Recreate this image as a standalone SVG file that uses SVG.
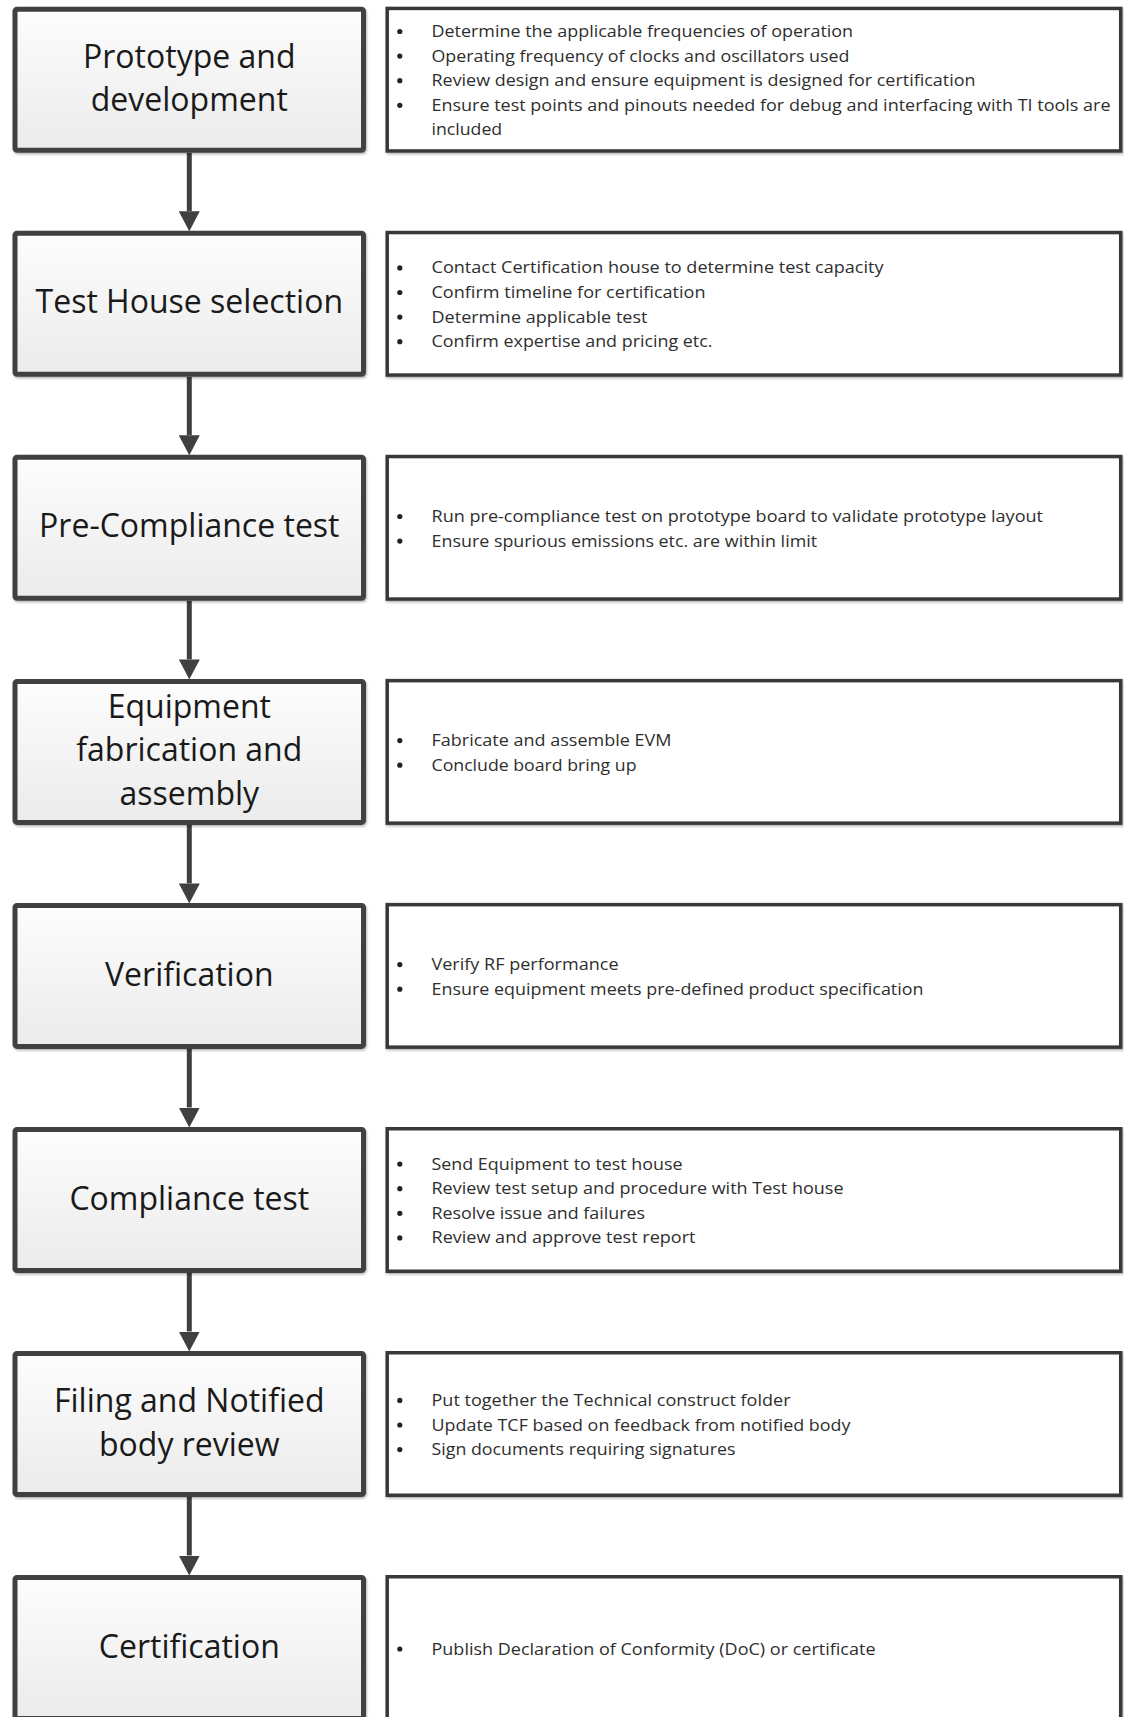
<svg xmlns="http://www.w3.org/2000/svg" width="1124" height="1717" viewBox="0 0 1124 1717">
<defs>
<linearGradient id="fillGrad" x1="0" y1="0" x2="0" y2="1">
<stop offset="0" stop-color="#fdfdfd"/>
<stop offset="1" stop-color="#ebebeb"/>
</linearGradient>
<filter id="shadow" x="-5%" y="-5%" width="110%" height="115%">
<feDropShadow dx="1" dy="1.5" stdDeviation="1.2" flood-color="#000" flood-opacity="0.3"/>
</filter>
<marker id="head" viewBox="0 0 20 21" markerWidth="20" markerHeight="21" markerUnits="userSpaceOnUse" refX="0" refY="10.5" orient="auto">
<path d="M0,0 L20,10.5 L0,21 Z" fill="#404040"/>
</marker>
</defs>
<style>
.step{fill:url(#fillGrad);stroke:#404040;stroke-width:5;filter:url(#shadow)}
.info{fill:#ffffff;stroke:#383838;stroke-width:3.5;filter:url(#shadow)}
.title{font-family:"Open Sans","Noto Sans","Liberation Sans",sans-serif;font-size:32px;fill:#1a1a1a;text-anchor:middle}
.item{font-family:"Open Sans","Noto Sans","Liberation Sans",sans-serif;font-size:17px;fill:#2e2e2e}
.dot{fill:#222}
.conn{stroke:#404040;stroke-width:5;fill:none;marker-end:url(#head)}
</style>
<rect width="1124" height="1717" fill="#ffffff"/>

<g id="connectors">
<line class="conn" x1="189.3" y1="152.7" x2="189.3" y2="211.3"/>
<line class="conn" x1="189.3" y1="376.8" x2="189.3" y2="435.3"/>
<line class="conn" x1="189.3" y1="600.8" x2="189.3" y2="659.4"/>
<line class="conn" x1="189.3" y1="824.9" x2="189.3" y2="883.4"/>
<line class="conn" x1="189.3" y1="1048.9" x2="189.3" y2="1107.5"/>
<line class="conn" x1="189.3" y1="1273" x2="189.3" y2="1331.5"/>
<line class="conn" x1="189.3" y1="1497" x2="189.3" y2="1555.5"/>
</g>

<g id="step1">
<rect class="step" x="15" y="9.2" width="348.5" height="141" rx="2"/>
<text class="title" x="189.3" y="68">Prototype and</text>
<text class="title" x="189.3" y="111.4">development</text>
</g>
<g id="info1">
<rect class="info" x="387.2" y="8.45" width="733.5" height="142.5"/>
<circle class="dot" cx="399.8" cy="31.5" r="2.6"/>
<text class="item" x="431.5" y="37" textLength="421.6" lengthAdjust="spacingAndGlyphs">Determine the applicable frequencies of operation</text>
<circle class="dot" cx="399.8" cy="56.1" r="2.6"/>
<text class="item" x="431.5" y="61.6" textLength="418" lengthAdjust="spacingAndGlyphs">Operating frequency of clocks and oscillators used</text>
<circle class="dot" cx="399.8" cy="80.7" r="2.6"/>
<text class="item" x="431.5" y="86.2" textLength="544" lengthAdjust="spacingAndGlyphs">Review design and ensure equipment is designed for certification</text>
<circle class="dot" cx="399.8" cy="105.3" r="2.6"/>
<text class="item" x="431.5" y="110.8" textLength="679" lengthAdjust="spacingAndGlyphs">Ensure test points and pinouts needed for debug and interfacing with TI tools are</text>
<text class="item" x="431.5" y="135.4" textLength="70.7" lengthAdjust="spacingAndGlyphs">included</text>
</g>

<g id="step2">
<rect class="step" x="15" y="233.3" width="348.5" height="141" rx="2"/>
<text class="title" x="189.3" y="313.4">Test House selection</text>
</g>
<g id="info2">
<rect class="info" x="387.2" y="232.55" width="733.5" height="142.5"/>
<circle class="dot" cx="399.8" cy="267.9" r="2.6"/>
<text class="item" x="431.5" y="273.4" textLength="452" lengthAdjust="spacingAndGlyphs">Contact Certification house to determine test capacity</text>
<circle class="dot" cx="399.8" cy="292.5" r="2.6"/>
<text class="item" x="431.5" y="298" textLength="274" lengthAdjust="spacingAndGlyphs">Confirm timeline for certification</text>
<circle class="dot" cx="399.8" cy="317.1" r="2.6"/>
<text class="item" x="431.5" y="322.6" textLength="216" lengthAdjust="spacingAndGlyphs">Determine applicable test</text>
<circle class="dot" cx="399.8" cy="341.7" r="2.6"/>
<text class="item" x="431.5" y="347.2" textLength="281" lengthAdjust="spacingAndGlyphs">Confirm expertise and pricing etc.</text>
</g>

<g id="step3">
<rect class="step" x="15" y="457.3" width="348.5" height="141" rx="2"/>
<text class="title" x="189.3" y="537.4">Pre-Compliance test</text>
</g>
<g id="info3">
<rect class="info" x="387.2" y="456.55" width="733.5" height="142.5"/>
<circle class="dot" cx="399.8" cy="516.5" r="2.6"/>
<text class="item" x="431.5" y="522" textLength="611.5" lengthAdjust="spacingAndGlyphs">Run pre-compliance test on prototype board to validate prototype layout</text>
<circle class="dot" cx="399.8" cy="541.1" r="2.6"/>
<text class="item" x="431.5" y="546.6" textLength="385.6" lengthAdjust="spacingAndGlyphs">Ensure spurious emissions etc. are within limit</text>
</g>

<g id="step4">
<rect class="step" x="15" y="681.4" width="348.5" height="141" rx="2"/>
<text class="title" x="189.3" y="717.9">Equipment</text>
<text class="title" x="189.3" y="761.3">fabrication and</text>
<text class="title" x="189.3" y="804.7">assembly</text>
</g>
<g id="info4">
<rect class="info" x="387.2" y="680.65" width="733.5" height="142.5"/>
<circle class="dot" cx="399.8" cy="740.6" r="2.6"/>
<text class="item" x="431.5" y="746.1" textLength="240" lengthAdjust="spacingAndGlyphs">Fabricate and assemble EVM</text>
<circle class="dot" cx="399.8" cy="765.2" r="2.6"/>
<text class="item" x="431.5" y="770.7" textLength="205" lengthAdjust="spacingAndGlyphs">Conclude board bring up</text>
</g>

<g id="step5">
<rect class="step" x="15" y="905.4" width="348.5" height="141" rx="2"/>
<text class="title" x="189.3" y="985.5">Verification</text>
</g>
<g id="info5">
<rect class="info" x="387.2" y="904.65" width="733.5" height="142.5"/>
<circle class="dot" cx="399.8" cy="964.6" r="2.6"/>
<text class="item" x="431.5" y="970.1" textLength="187" lengthAdjust="spacingAndGlyphs">Verify RF performance</text>
<circle class="dot" cx="399.8" cy="989.2" r="2.6"/>
<text class="item" x="431.5" y="994.7" textLength="492" lengthAdjust="spacingAndGlyphs">Ensure equipment meets pre-defined product specification</text>
</g>

<g id="step6">
<rect class="step" x="15" y="1129.5" width="348.5" height="141" rx="2"/>
<text class="title" x="189.3" y="1209.6">Compliance test</text>
</g>
<g id="info6">
<rect class="info" x="387.2" y="1128.75" width="733.5" height="142.5"/>
<circle class="dot" cx="399.8" cy="1164.1" r="2.6"/>
<text class="item" x="431.5" y="1169.6" textLength="251" lengthAdjust="spacingAndGlyphs">Send Equipment to test house</text>
<circle class="dot" cx="399.8" cy="1188.7" r="2.6"/>
<text class="item" x="431.5" y="1194.2" textLength="412" lengthAdjust="spacingAndGlyphs">Review test setup and procedure with Test house</text>
<circle class="dot" cx="399.8" cy="1213.3" r="2.6"/>
<text class="item" x="431.5" y="1218.8" textLength="213.5" lengthAdjust="spacingAndGlyphs">Resolve issue and failures</text>
<circle class="dot" cx="399.8" cy="1237.9" r="2.6"/>
<text class="item" x="431.5" y="1243.4" textLength="264" lengthAdjust="spacingAndGlyphs">Review and approve test report</text>
</g>

<g id="step7">
<rect class="step" x="15" y="1353.5" width="348.5" height="141" rx="2"/>
<text class="title" x="189.3" y="1412.3">Filing and Notified</text>
<text class="title" x="189.3" y="1455.7">body review</text>
</g>
<g id="info7">
<rect class="info" x="387.2" y="1352.75" width="733.5" height="142.5"/>
<circle class="dot" cx="399.8" cy="1400.4" r="2.6"/>
<text class="item" x="431.5" y="1405.9" textLength="359" lengthAdjust="spacingAndGlyphs">Put together the Technical construct folder</text>
<circle class="dot" cx="399.8" cy="1425" r="2.6"/>
<text class="item" x="431.5" y="1430.5" textLength="419" lengthAdjust="spacingAndGlyphs">Update TCF based on feedback from notified body</text>
<circle class="dot" cx="399.8" cy="1449.6" r="2.6"/>
<text class="item" x="431.5" y="1455.1" textLength="304" lengthAdjust="spacingAndGlyphs">Sign documents requiring signatures</text>
</g>

<g id="step8">
<rect class="step" x="15" y="1577.5" width="348.5" height="141" rx="2"/>
<text class="title" x="189.3" y="1657.6">Certification</text>
</g>
<g id="info8">
<rect class="info" x="387.2" y="1576.75" width="733.5" height="142.5"/>
<circle class="dot" cx="399.8" cy="1649" r="2.6"/>
<text class="item" x="431.5" y="1654.5" textLength="444" lengthAdjust="spacingAndGlyphs">Publish Declaration of Conformity (DoC) or certificate</text>
</g>
</svg>
